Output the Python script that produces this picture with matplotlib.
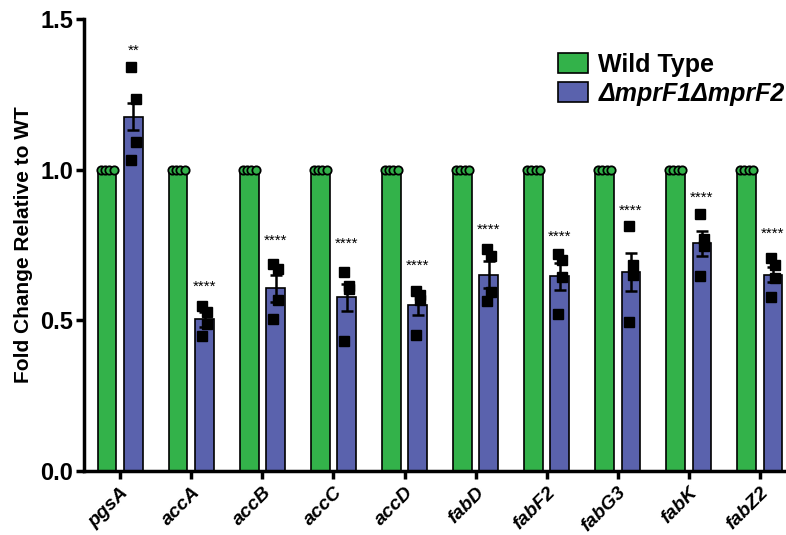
import numpy as np
import matplotlib.pyplot as plt

# qPCR fold change, WT vs double mutant
genes = ["pgsA", "accA", "accB", "accC", "accD", "fabD", "fabF2", "fabG3", "fabK", "fabZ2"]
wt_mean = [1.0] * 10
mut_mean = [1.175, 0.503, 0.607, 0.577, 0.551, 0.652, 0.646, 0.661, 0.755, 0.652]
mut_sem = [0.045, 0.026, 0.045, 0.045, 0.033, 0.045, 0.045, 0.063, 0.042, 0.025]
mut_points = [
    [1.342, 1.233, 1.093, 1.032],
    [0.548, 0.529, 0.488, 0.448],
    [0.687, 0.670, 0.567, 0.503],
    [0.661, 0.614, 0.603, 0.431],
    [0.598, 0.585, 0.569, 0.452],
    [0.737, 0.715, 0.594, 0.563],
    [0.720, 0.700, 0.645, 0.520],
    [0.812, 0.684, 0.651, 0.496],
    [0.853, 0.770, 0.748, 0.648],
    [0.707, 0.684, 0.640, 0.579],
]
stars = ["**", "****", "****", "****", "****", "****", "****", "****", "****", "****"]
star_y = [1.393, 0.61, 0.764, 0.754, 0.68, 0.80, 0.778, 0.865, 0.906, 0.786]

green = "#33b24a"
blue = "#5a62ad"

plt.rcParams['font.family'] = ['Liberation Sans', 'DejaVu Sans']
plt.rcParams['font.weight'] = 'bold'

fig = plt.figure(figsize=(7.86, 5.35), dpi=100)
ax = fig.add_axes([0.107, 0.1196, 0.893, 0.845])

x = np.arange(len(genes))
w = 0.26
off = 0.185
ax.bar(x - off, wt_mean, w, color=green, edgecolor="black", linewidth=1.2,
       label="Wild Type", zorder=2)
ax.bar(x + off, mut_mean, w, color=blue, edgecolor="black", linewidth=1.2,
       label="\u0394mprF1\u0394mprF2", zorder=2)
ax.errorbar(x + off, mut_mean, yerr=mut_sem, fmt="none", ecolor="black",
            elinewidth=1.8, capsize=4.5, capthick=1.8, zorder=3)

jit = np.array([-0.03, 0.03, 0.03, -0.03])
circ = np.array([-0.09, -0.03, 0.03, 0.09])
for i in range(len(genes)):
    ax.plot(x[i] - off + circ, [wt_mean[i]] * 4, "o", ms=6, mfc=green,
            mec="black", mew=1.3, zorder=4, clip_on=False)
    ax.plot(x[i] + off + jit, mut_points[i], "s", ms=7, color="black",
            zorder=4, clip_on=False)
    ax.text(x[i] + off, star_y[i], stars[i], ha="center", va="center",
            fontsize=11, fontweight="normal")

ax.set_xlim(-0.51, 9.37)
ax.set_ylim(0, 1.5)
ax.set_yticks([0, 0.5, 1.0, 1.5])
ax.set_yticklabels(["0.0", "0.5", "1.0", "1.5"], fontsize=17, fontweight="bold")
ax.set_xticks(x)
ax.set_xticklabels(genes, rotation=45, ha="right", rotation_mode="anchor",
                   fontsize=14, fontweight="bold", fontstyle="italic")
ax.set_ylabel("Fold Change Relative to WT", fontsize=15, fontweight="bold",
              labelpad=5)

for s in ["top", "right"]:
    ax.spines[s].set_visible(False)
for s in ["left", "bottom"]:
    ax.spines[s].set_linewidth(2.5)
ax.tick_params(width=2.5, length=6)
ax.tick_params(axis="y", pad=2)

leg = ax.legend(loc="upper right", bbox_to_anchor=(1.03, 0.975), frameon=False,
                prop={"size": 18, "weight": "bold"}, handlelength=1.2,
                handleheight=0.9, handletextpad=0.4, labelspacing=0.2)
leg.get_texts()[1].set_fontstyle("italic")

fig.savefig("out.png", dpi=100)
